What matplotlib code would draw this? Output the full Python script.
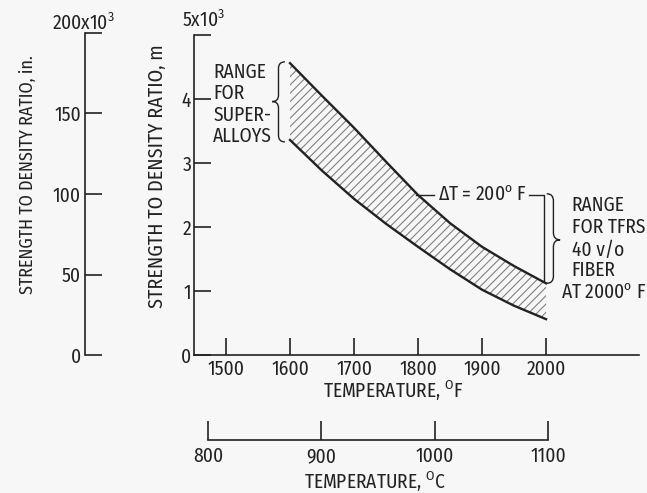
import matplotlib
matplotlib.use("Agg")
import matplotlib.pyplot as plt
from matplotlib.path import Path
from matplotlib.patches import PathPatch

plt.rcParams['font.family'] = ['Fira Sans Condensed', 'DejaVu Sans']
plt.rcParams['font.stretch'] = 'condensed'
plt.rcParams['mathtext.fontset'] = 'custom'
plt.rcParams['mathtext.rm'] = 'Fira Sans Condensed'
plt.rcParams['hatch.linewidth'] = 0.8

# temperature (deg F) and strength-to-density ratio (x10^3 m)
temp_f = [1600, 1650, 1700, 1750, 1800, 1850, 1900, 1950, 2000]
upper = [4.56, 4.05, 3.55, 3.02, 2.50, 2.06, 1.69, 1.39, 1.12]
lower = [3.36, 2.88, 2.44, 2.05, 1.69, 1.34, 1.02, 0.77, 0.56]

f_ticks = [1500, 1600, 1700, 1800, 1900, 2000]
c_ticks = [800, 900, 1000, 1100]
m_ticks = [0, 1, 2, 3, 4, 5]
in_ticks = [0, 50, 100, 150, 200]

ink = '#222222'
W, H = 647, 493
fs = 14


def brace(ax, x_end, x_tip, y0, y1, ymid):
    # curly brace, ends at x_end, point at x_tip
    xm = (x_end + x_tip) / 2
    dy = (y1 - y0) * 0.08
    verts = [(x_end, y1), (xm, y1), (xm, y1 - dy),
             (xm, ymid + dy),
             (xm, ymid), (x_tip, ymid),
             (xm, ymid), (xm, ymid - dy),
             (xm, y0 + dy),
             (xm, y0), (x_end, y0)]
    codes = [Path.MOVETO, Path.CURVE3, Path.CURVE3,
             Path.LINETO,
             Path.CURVE3, Path.CURVE3,
             Path.CURVE3, Path.CURVE3,
             Path.LINETO,
             Path.CURVE3, Path.CURVE3]
    ax.add_patch(PathPatch(Path(verts, codes), fill=False, lw=1.0,
                           edgecolor=ink, clip_on=False))


fig = plt.figure(figsize=(W / 100, H / 100), dpi=100)
fig.patch.set_facecolor('#f7f7f7')

# main axes (deg F, x10^3 m)
ax = fig.add_axes([194 / W, 1 - 355 / H, (639.5 - 194) / W, 320 / H])
ax.set_facecolor('none')
ax.set_xlim(1450, 2146)
ax.set_ylim(0, 5)
for s in ['top', 'right']:
    ax.spines[s].set_visible(False)
for s in ['left', 'bottom']:
    ax.spines[s].set_linewidth(1.2)
    ax.spines[s].set_color(ink)

ax.fill_between(temp_f, lower, upper, facecolor='none', edgecolor='#808080',
                hatch='////', linewidth=0)
ax.plot(temp_f, upper, color=ink, lw=1.7)
ax.plot(temp_f, lower, color=ink, lw=1.7)

ax.set_xticks(f_ticks)
ax.set_xticklabels([str(t) for t in f_ticks])
ax.set_yticks(m_ticks)
ax.set_yticklabels(['0', '1', '2', '3', '4', ''])
ax.tick_params(direction='in', length=12, width=1.2, color=ink,
               labelcolor=ink, labelsize=fs)
ax.tick_params(axis='x', pad=3)
ax.tick_params(axis='y', pad=2)
ax.text(1465, 5.23, r'5x10$^{3}$', ha='center', va='center', fontsize=fs,
        color=ink, clip_on=False)

fig.text(393 / W, 1 - 391 / H, r'TEMPERATURE, $^{\rm O}$F', ha='center',
         va='center', fontsize=fs, color=ink)
fig.text(157 / W, 1 - 176 / H, 'STRENGTH TO DENSITY RATIO, m', rotation=90,
         ha='center', va='center', fontsize=fs + 0.5, color=ink)

# annotations
brace(ax, 1592, 1572, 3.33, 4.58, 3.96)
for txt, yv in zip(['RANGE', 'FOR', 'SUPER-', 'ALLOYS'], [4.42, 4.09, 3.75, 3.41]):
    ax.text(1480, yv, txt, ha='left', va='center', fontsize=fs, color=ink)

ax.plot([1797, 1825], [2.5, 2.5], color=ink, lw=1.0)
ax.plot([1974, 1997, 1997], [2.5, 2.5, 1.15], color=ink, lw=1.0)
ax.text(1900, 2.5, r'ΔT = 200$^{\rm o}$ F', ha='center', va='center',
        fontsize=fs, color=ink)

brace(ax, 2001, 2022, 1.12, 2.52, 1.8)
for txt, yv in zip(['RANGE', 'FOR TFRS', '40 v/o', 'FIBER'], [2.34, 2.0, 1.64, 1.33]):
    ax.text(2040, yv, txt, ha='left', va='center', fontsize=fs, color=ink,
            clip_on=False)
ax.text(2024, 0.97, r'AT 2000$^{\rm o}$ F', ha='left', va='center',
        fontsize=fs, color=ink, clip_on=False)

# left axis (x10^3 in.)
axl = fig.add_axes([85 / W, 1 - 355 / H, 0.05, 322 / H])
axl.set_facecolor('none')
axl.set_ylim(0, 200)
for s in ['top', 'right', 'bottom']:
    axl.spines[s].set_visible(False)
axl.spines['left'].set_linewidth(1.2)
axl.spines['left'].set_color(ink)
axl.set_xticks([])
axl.set_yticks(in_ticks)
axl.set_yticklabels(['0', '50', '100', '150', ''])
axl.tick_params(direction='in', length=12, width=1.2, color=ink,
                labelcolor=ink, labelsize=fs, pad=3)
fig.text(83 / W, 1 - 23 / H, r'200x10$^{3}$', ha='center', va='center',
         fontsize=fs, color=ink)
fig.text(28 / W, 1 - 175 / H, 'STRENGTH TO DENSITY RATIO, in.', rotation=90,
         ha='center', va='center', fontsize=fs - 1, color=ink)

# celsius axis
axc = fig.add_axes([208 / W, 1 - 440 / H, (548 - 208) / W, 0.04])
axc.set_facecolor('none')
axc.set_xlim(800, 1100)
for s in ['top', 'right', 'left']:
    axc.spines[s].set_visible(False)
axc.spines['bottom'].set_linewidth(1.2)
axc.spines['bottom'].set_color(ink)
axc.set_yticks([])
axc.set_xticks(c_ticks)
axc.set_xticklabels([str(t) for t in c_ticks])
axc.tick_params(direction='in', length=14, width=1.2, color=ink,
                labelcolor=ink, labelsize=fs, pad=5)
fig.text(375 / W, 1 - 482 / H, r'TEMPERATURE, $^{\rm O}$C', ha='center',
         va='center', fontsize=fs, color=ink)

fig.savefig('out.png', dpi=100, facecolor=fig.get_facecolor())
